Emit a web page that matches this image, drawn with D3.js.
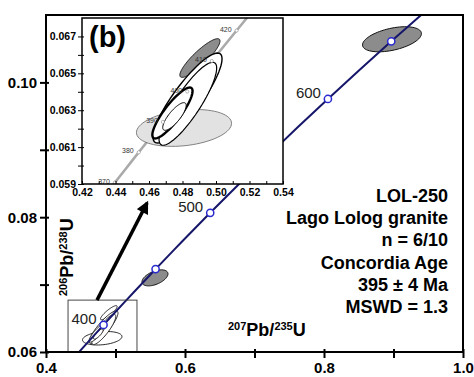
<!DOCTYPE html>
<html>
<head>
<meta charset="utf-8">
<script src="https://cdn.jsdelivr.net/npm/d3@7"></script>
<style>
  body { margin: 0; background: #fff; }
  text { font-family: "Liberation Sans", Arial, sans-serif; }
</style>
</head>
<body>
<div id="container"></div>
<script>
/* DATA */
// concordia points (age in Ma, 207Pb/235U, 206Pb/238U)
const ages      = [365, 370, 375, 380, 390, 400, 410, 420, 430, 450, 475, 500, 525, 550, 575, 600, 625, 650, 675];
const pb207u235 = [0.43257, 0.43964, 0.44675, 0.45389, 0.46828, 0.48281, 0.49749, 0.51231, 0.52728, 0.55766, 0.59648, 0.63628, 0.67707, 0.71887, 0.76172, 0.80563, 0.85064, 0.89677, 0.94405];
const pb206u238 = [0.058254, 0.059076, 0.059895, 0.060720, 0.062366, 0.064015, 0.065668, 0.067322, 0.068979, 0.072300, 0.076467, 0.080650, 0.084849, 0.089064, 0.093296, 0.097544, 0.101809, 0.106090, 0.110388];

const mainMarks   = [400, 450, 500, 550, 600, 650];
const mainLabels  = [400, 500, 600];
const insetMarks  = [370, 380, 390, 400, 410, 420];

// analyses: centre, half-extent in x and y, error correlation
const spotX    = [0.8978, 0.5568, 0.4809, 0.4904, 0.4830, 0.4832, 0.4740, 0.4752];
const spotY    = [0.1064, 0.0710, 0.06204, 0.06583, 0.06366, 0.06335, 0.06285, 0.06266];
const spotSx   = [0.0424, 0.0187, 0.0284, 0.0120, 0.0206, 0.0172, 0.0120, 0.0070];
const spotSy   = [0.00186, 0.00119, 0.00100, 0.00105, 0.00244, 0.00225, 0.00138, 0.00075];
const spotRho  = [0.45, 0.5, 0.25, 0.88, 0.87, 0.86, 0.86, 0.8];
const mainFill = ["#8c8c8c", "#8c8c8c", "#fff", "#fff", "#fff", "#fff", "#fff", "#fff"];
const insetFill= ["#8c8c8c", "#8c8c8c", "#e2e2e2", "#8c8c8c", "#fff", "#fff", "#fff", "#fff"];
const spotW    = [1, 1, 0.8, 0.8, 1.4, 1.2, 2.4, 1];

const infoLines = ["LOL-250", "Lago Lolog granite", "n = 6/10", "Concordia Age", "395 \u00b1 4 Ma", "MSWD = 1.3"];

// zoom box and arrow (main axes units)
const zoomBox = [0.4317, 0.5309, 0.06, 0.0677];
const arrowFrom = [0.4734, 0.0677];
const arrowTo = [0.5453, 0.0821];

/* CONSTANTS */
const width = 474, height = 377;
const main = { left: 46, right: 463, top: 15, bottom: 352 };
const ins = { left: 82, right: 283, top: 18, bottom: 184 };

const svg = d3.select("#container").append("svg")
  .attr("width", width).attr("height", height);

const defs = svg.append("defs");
defs.append("clipPath").attr("id", "mainClip").append("rect")
  .attr("x", main.left).attr("y", main.top)
  .attr("width", main.right - main.left).attr("height", main.bottom - main.top);
defs.append("clipPath").attr("id", "insClip").append("rect")
  .attr("x", ins.left).attr("y", ins.top)
  .attr("width", ins.right - ins.left).attr("height", ins.bottom - ins.top);
defs.append("marker").attr("id", "arrow")
  .attr("viewBox", "0 0 10 10").attr("refX", 8).attr("refY", 5)
  .attr("markerWidth", 4).attr("markerHeight", 3.6)
  .attr("orient", "auto").attr("markerUnits", "strokeWidth")
  .append("path").attr("d", "M0,0L10,5L0,10z").attr("fill", "#000");

/* SCALES */
const x = d3.scaleLinear().domain([0.4, 1.0]).range([main.left, main.right]);
const y = d3.scaleLinear().domain([0.06, 0.11]).range([main.bottom, main.top]);
const xi = d3.scaleLinear().domain([0.42, 0.54]).range([ins.left, ins.right]);
const yi = d3.scaleLinear().domain([0.059, 0.068]).range([ins.bottom, ins.top]);

const concordia = ages.map((a, i) => [pb207u235[i], pb206u238[i]]);
const ageIdx = a => ages.indexOf(a);

function ellipsePts(i) {
  const pts = [];
  const k = Math.sqrt(1 - spotRho[i] * spotRho[i]);
  for (let j = 0; j < 72; j++) {
    const t = j / 72 * 2 * Math.PI;
    pts.push([spotX[i] + spotSx[i] * Math.cos(t),
              spotY[i] + spotSy[i] * (spotRho[i] * Math.cos(t) + k * Math.sin(t))]);
  }
  return pts;
}

/* MAIN PANEL */
const gMain = svg.append("g").attr("clip-path", "url(#mainClip)");

const mainEll = d3.line().x(d => x(d[0])).y(d => y(d[1])).curve(d3.curveLinearClosed);
gMain.selectAll("path.spot")
  .data(d3.range(spotX.length))
  .join("path")
  .attr("class", "spot")
  .attr("d", i => mainEll(ellipsePts(i)))
  .attr("fill", i => mainFill[i])
  .attr("stroke", "#111")
  .attr("stroke-width", i => i < 2 ? 1 : 0.9);

gMain.append("path")
  .datum(concordia)
  .attr("d", d3.line().x(d => x(d[0])).y(d => y(d[1])).curve(d3.curveCatmullRom))
  .attr("fill", "none")
  .attr("stroke", "#16166a")
  .attr("stroke-width", 2);

gMain.selectAll("circle.age")
  .data(mainMarks)
  .join("circle")
  .attr("class", "age")
  .attr("cx", a => x(pb207u235[ageIdx(a)]))
  .attr("cy", a => y(pb206u238[ageIdx(a)]))
  .attr("r", 3.6)
  .attr("fill", "#fff")
  .attr("stroke", "#2a2ad0")
  .attr("stroke-width", 1.5);

svg.selectAll("text.agelab")
  .data(mainLabels)
  .join("text")
  .attr("class", "agelab")
  .attr("x", a => x(pb207u235[ageIdx(a)]) - 7)
  .attr("y", a => y(pb206u238[ageIdx(a)]) - 1)
  .attr("text-anchor", "end")
  .style("font-size", "15px")
  .attr("fill", "#222")
  .text(a => a);

// zoom box + arrow
svg.append("rect")
  .attr("x", x(zoomBox[0])).attr("y", y(zoomBox[3]))
  .attr("width", x(zoomBox[1]) - x(zoomBox[0]))
  .attr("height", y(zoomBox[2]) - y(zoomBox[3]))
  .attr("fill", "none").attr("stroke", "#333").attr("stroke-width", 0.9);

svg.append("line")
  .attr("x1", x(arrowFrom[0])).attr("y1", y(arrowFrom[1]))
  .attr("x2", x(arrowTo[0])).attr("y2", y(arrowTo[1]))
  .attr("stroke", "#000").attr("stroke-width", 3.5)
  .attr("marker-end", "url(#arrow)");

// frame + axes
svg.append("rect")
  .attr("x", main.left).attr("y", main.top)
  .attr("width", main.right - main.left).attr("height", main.bottom - main.top)
  .attr("fill", "none").attr("stroke", "#000").attr("stroke-width", 2);

const xAxis = svg.append("g")
  .attr("transform", `translate(0,${main.bottom})`)
  .call(d3.axisBottom(x)
    .tickValues([0.4, 0.5, 0.6, 0.7, 0.8, 0.9, 1.0])
    .tickSize(6).tickPadding(4)
    .tickFormat(d => (Math.round(d * 10) % 2 === 0) ? d3.format(".1f")(d) : ""));
xAxis.select(".domain").remove();
xAxis.selectAll(".tick line").attr("y1", -3).attr("stroke", "#000").attr("stroke-width", 2);
xAxis.selectAll(".tick text").style("font-size", "15px").style("font-weight", "bold")
  .attr("fill", "#000").attr("font-family", null);

const yAxis = svg.append("g")
  .attr("transform", `translate(${main.left},0)`)
  .call(d3.axisLeft(y)
    .tickValues([0.06, 0.07, 0.08, 0.09, 0.10])
    .tickSize(6).tickPadding(3)
    .tickFormat(d => (Math.round(d * 100) % 2 === 0) ? d3.format(".2f")(d) : ""));
yAxis.select(".domain").remove();
yAxis.selectAll(".tick line").attr("x1", 3).attr("stroke", "#000").attr("stroke-width", 2);
yAxis.selectAll(".tick text").style("font-size", "15px").style("font-weight", "bold")
  .attr("fill", "#000").attr("font-family", null);

// axis titles
const yTitle = svg.append("text")
  .attr("transform", "translate(73,296) rotate(-90)")
  .style("font-size", "18px").style("font-weight", "bold");
yTitle.append("tspan").attr("baseline-shift", "super").style("font-size", "11px").text("206");
yTitle.append("tspan").text("Pb/");
yTitle.append("tspan").attr("baseline-shift", "super").style("font-size", "11px").text("238");
yTitle.append("tspan").text("U");

const xTitle = svg.append("text")
  .attr("x", 228).attr("y", 336)
  .style("font-size", "18px").style("font-weight", "bold");
xTitle.append("tspan").attr("baseline-shift", "super").style("font-size", "11px").text("207");
xTitle.append("tspan").text("Pb/");
xTitle.append("tspan").attr("baseline-shift", "super").style("font-size", "11px").text("235");
xTitle.append("tspan").text("U");

// info block
svg.selectAll("text.info")
  .data(infoLines)
  .join("text")
  .attr("class", "info")
  .attr("x", 448)
  .attr("y", (d, i) => 202 + i * 22.2)
  .attr("text-anchor", "end")
  .style("font-size", "18px").style("font-weight", "bold")
  .text(d => d);

/* INSET */
svg.append("rect")
  .attr("x", ins.left).attr("y", ins.top)
  .attr("width", ins.right - ins.left).attr("height", ins.bottom - ins.top)
  .attr("fill", "#fff");

const gIns = svg.append("g").attr("clip-path", "url(#insClip)");

gIns.append("path")
  .datum(concordia)
  .attr("d", d3.line().x(d => xi(d[0])).y(d => yi(d[1])).curve(d3.curveCatmullRom))
  .attr("fill", "none")
  .attr("stroke", "#aaa")
  .attr("stroke-width", 2.6);

const insEll = d3.line().x(d => xi(d[0])).y(d => yi(d[1])).curve(d3.curveLinearClosed);
gIns.selectAll("path.spot")
  .data(d3.range(spotX.length))
  .join("path")
  .attr("class", "spot")
  .attr("d", i => insEll(ellipsePts(i)))
  .attr("fill", i => insetFill[i])
  .attr("stroke", i => i === 2 ? "#666" : "#000")
  .attr("stroke-width", i => spotW[i]);

gIns.selectAll("circle.age")
  .data(insetMarks)
  .join("circle")
  .attr("class", "age")
  .attr("cx", a => xi(pb207u235[ageIdx(a)]))
  .attr("cy", a => yi(pb206u238[ageIdx(a)]))
  .attr("r", 1.6)
  .attr("fill", "#fff")
  .attr("stroke", "#999")
  .attr("stroke-width", 0.7);

gIns.selectAll("text.agelab")
  .data(insetMarks)
  .join("text")
  .attr("class", "agelab")
  .attr("x", a => xi(pb207u235[ageIdx(a)]) - 5)
  .attr("y", a => yi(pb206u238[ageIdx(a)]) + 1)
  .attr("text-anchor", "end")
  .style("font-size", "7px")
  .attr("fill", "#333")
  .text(a => a);

svg.append("rect")
  .attr("x", ins.left).attr("y", ins.top)
  .attr("width", ins.right - ins.left).attr("height", ins.bottom - ins.top)
  .attr("fill", "none").attr("stroke", "#000").attr("stroke-width", 1.5);

const xiTicks = d3.range(42, 55).map(v => v / 100);
const xiAxis = svg.append("g")
  .attr("transform", `translate(0,${ins.bottom})`)
  .call(d3.axisBottom(xi)
    .tickValues(xiTicks).tickSize(-3).tickPadding(5)
    .tickFormat(d => (Math.round(d * 100) % 2 === 0) ? d3.format(".2f")(d) : ""));
xiAxis.select(".domain").remove();
xiAxis.selectAll(".tick line").attr("stroke", "#000");
xiAxis.selectAll(".tick text").style("font-size", "10.5px").style("font-weight", "bold")
  .attr("fill", "#000").attr("font-family", null);

const yiTicks = d3.range(59, 68).map(v => v / 1000);
const yiAxis = svg.append("g")
  .attr("transform", `translate(${ins.left},0)`)
  .call(d3.axisLeft(yi)
    .tickValues(yiTicks).tickSize(4).tickPadding(2)
    .tickFormat(d => (Math.round(d * 1000) % 2 === 1) ? d3.format(".3f")(d) : ""));
yiAxis.select(".domain").remove();
yiAxis.selectAll(".tick line").attr("stroke", "#000").attr("x1", 2);
yiAxis.selectAll(".tick text").style("font-size", "10.5px").style("font-weight", "bold")
  .attr("fill", "#000").attr("font-family", null);

svg.append("text")
  .attr("x", 89).attr("y", 47)
  .style("font-size", "29px").style("font-weight", "bold")
  .text("(b)");
</script>
</body>
</html>
